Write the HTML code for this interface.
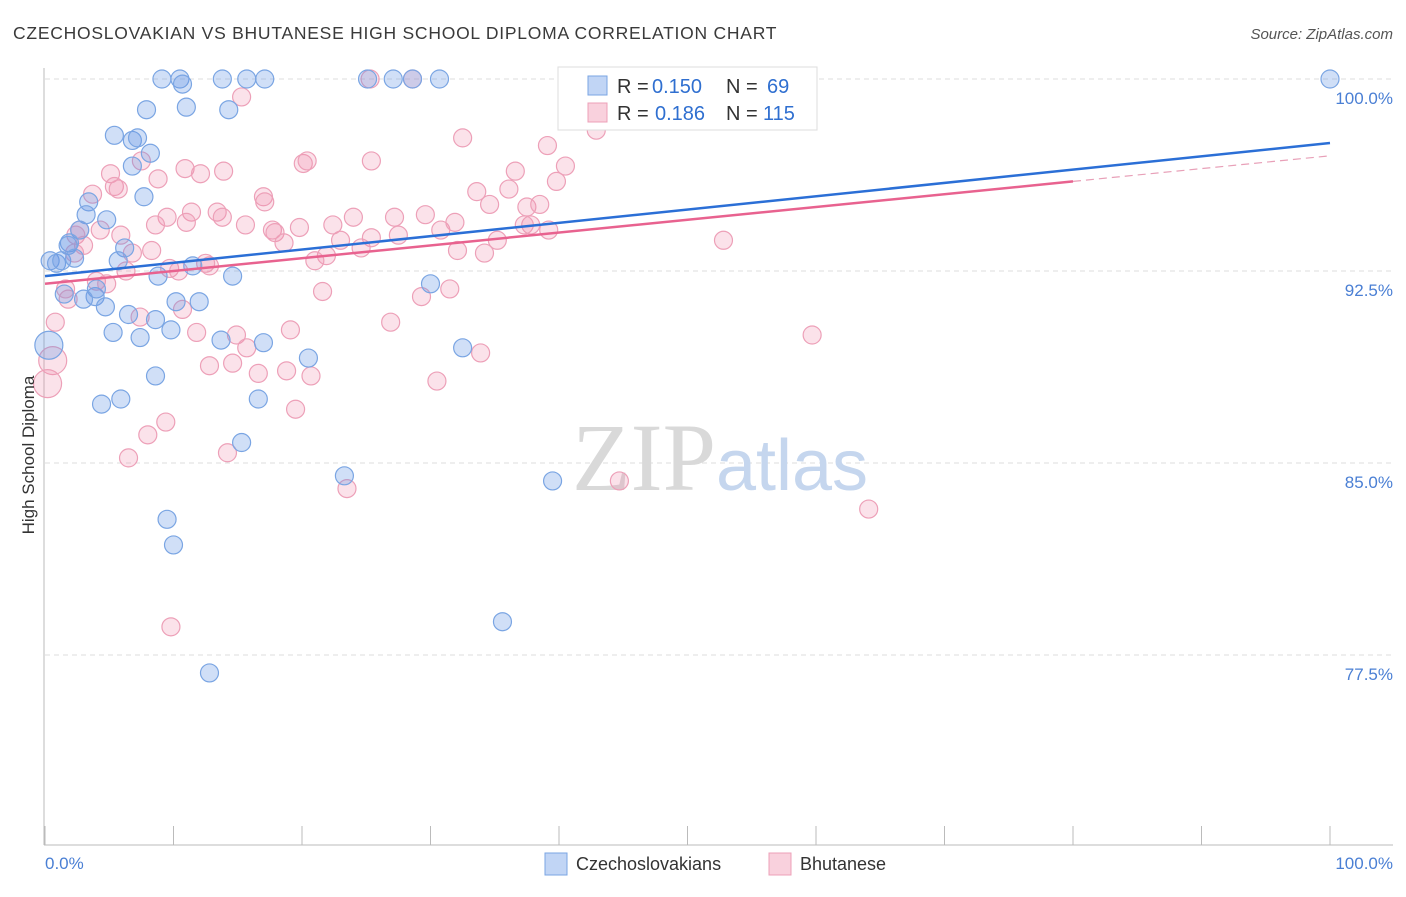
<!DOCTYPE html>
<html><head><meta charset="utf-8"><style>
body{margin:0;background:#fff;font-family:"Liberation Sans",sans-serif}
svg text{font-family:"Liberation Sans",sans-serif}
</style></head><body>
<svg id="chart" width="1406" height="892" viewBox="0 0 1406 892" xmlns="http://www.w3.org/2000/svg">
<text x="13" y="39" font-size="17.5" letter-spacing="0.75" fill="#3a3a3a">CZECHOSLOVAKIAN VS BHUTANESE HIGH SCHOOL DIPLOMA CORRELATION CHART</text>
<text x="1393" y="39" font-size="15" fill="#555" font-style="italic" text-anchor="end">Source: ZipAtlas.com</text>
<g id="grid"></g>
<text x="720" y="490" font-size="96" text-anchor="middle"><tspan fill="#d9d9d9" font-family="Liberation Serif">ZIP</tspan><tspan fill="#c5d6ee" font-size="72">atlas</tspan></text>
<g id="points"></g>
<g id="lines"></g>
<text transform="translate(34,455) rotate(-90)" font-size="17" fill="#333" text-anchor="middle">High School Diploma</text>
<g>
<rect x="558" y="67" width="259" height="63" fill="#fff" stroke="#ddd"/>
<rect x="588" y="76" width="19" height="19" fill="rgba(100,150,230,0.4)" stroke="#7aa5e3"/>
<rect x="588" y="103" width="19" height="19" fill="rgba(240,140,170,0.4)" stroke="#eda0b8"/>
<text x="617" y="93" font-size="20" fill="#333">R =</text>
<text x="652" y="93" font-size="20" fill="#2f6fd0">0.150</text>
<text x="726" y="93" font-size="20" fill="#333">N =</text>
<text x="767" y="93" font-size="20" fill="#2f6fd0">69</text>
<text x="617" y="120" font-size="20" fill="#333">R =</text>
<text x="655" y="120" font-size="20" fill="#2f6fd0">0.186</text>
<text x="726" y="120" font-size="20" fill="#333">N =</text>
<text x="763" y="120" font-size="20" fill="#2f6fd0">115</text>
</g>
<g>
<rect x="545" y="853" width="22" height="22" fill="rgba(100,150,230,0.4)" stroke="#7aa5e3"/>
<text x="576" y="870" font-size="18" fill="#333">Czechoslovakians</text>
<rect x="769" y="853" width="22" height="22" fill="rgba(240,140,170,0.4)" stroke="#eda0b8"/>
<text x="800" y="870" font-size="18" fill="#333">Bhutanese</text>
</g>
</svg>
<script>
const yTicks=[100,92.5,85,77.5];
const yTickLabels=["100.0%","92.5%","85.0%","77.5%"];
const xTickLabels=["0.0%","100.0%"];
const blueX=[9.1,10.5,10.7,13.8,15.7,17.1,25.1,27.1,28.6,30.7,100,7.9,11.0,14.3,5.4,6.8,7.2,8.2,6.8,7.7,3.4,3.2,4.8,2.7,1.9,1.8,6.2,0.4,0.9,1.3,2.3,5.7,8.8,11.5,14.6,30.0,1.5,3.9,4.0,3.0,4.7,10.2,12.0,6.5,8.6,5.3,7.4,9.8,13.7,17.0,20.5,32.5,8.6,4.4,5.9,16.6,15.3,23.3,39.5,9.5,10.0,35.6,12.8];
const blueY=[100,100,99.8,100,100,100,100,100,100,100,100,98.8,98.9,98.8,97.8,97.6,97.7,97.1,96.6,95.4,95.2,94.7,94.5,94.1,93.6,93.5,93.4,92.9,92.8,92.9,93.0,92.9,92.3,92.7,92.3,92.0,91.6,91.5,91.8,91.4,91.1,91.3,91.3,90.8,90.6,90.1,89.9,90.2,89.8,89.7,89.1,89.5,88.4,87.3,87.5,87.5,85.8,84.5,84.3,82.8,81.8,78.8,76.8];
const pinkX=[15.3,32.5,44.4,42.9,45.3,25.3,28.6,39.1,40.5,39.8,36.6,36.1,33.6,34.6,37.5,38.5,37.8,39.2,37.3,35.2,32.1,34.2,30.8,31.9,29.6,27.2,27.5,25.4,24.0,22.4,23.0,21.9,21.0,24.6,20.1,20.4,25.4,10.9,8.8,12.1,13.9,5.1,5.4,5.7,3.7,7.5,9.5,8.6,11.4,11.0,13.4,13.8,15.6,17.0,17.1,17.7,17.9,18.6,19.8,21.6,4.3,2.7,2.4,3.0,2.3,5.9,6.8,8.3,9.7,6.3,12.8,10.4,12.5,4.0,4.8,1.8,1.6,0.8,10.7,7.4,14.9,11.8,15.7,19.1,29.3,26.9,31.5,33.9,16.6,18.8,20.7,12.8,14.6,30.5,19.5,9.4,8.0,6.5,14.2,23.5,44.7,64.1,52.8,59.7,9.8];
const pinkY=[99.3,97.7,98.4,98.0,98.9,100,100,97.4,96.6,96.0,96.4,95.7,95.6,95.1,95.0,95.1,94.3,94.1,94.3,93.7,93.3,93.2,94.1,94.4,94.7,94.6,93.9,93.8,94.6,94.3,93.7,93.1,92.9,93.4,96.7,96.8,96.8,96.5,96.1,96.3,96.4,96.3,95.8,95.7,95.5,96.8,94.6,94.3,94.8,94.4,94.8,94.6,94.3,95.4,95.2,94.1,94.0,93.6,94.2,91.7,94.1,94.1,93.9,93.5,93.2,93.9,93.2,93.3,92.6,92.5,92.7,92.5,92.8,92.1,92.0,91.4,91.8,90.5,91.0,90.7,90.0,90.1,89.5,90.2,91.5,90.5,91.8,89.3,88.5,88.6,88.4,88.8,88.9,88.2,87.1,86.6,86.1,85.2,85.4,84.0,84.3,83.2,93.7,90.0,78.6];
const bigBlueX=[0.3], bigBlueY=[89.6];
const bigPinkX=[0.6,0.2], bigPinkY=[89.0,88.1];
const blueTrend=[[0,92.3],[100,97.5]];
const pinkTrend=[[0,92.0],[80,96.0],[100,97.0]];

const NS="http://www.w3.org/2000/svg";
const X=v=>45+v*12.85, Y=v=>79+(100-v)*25.6;
function mk(tag,attrs,parent){const e=document.createElementNS(NS,tag);for(const k in attrs)e.setAttribute(k,attrs[k]);parent.appendChild(e);return e;}
const grid=document.getElementById('grid');
yTicks.forEach((t,i)=>{
  const l=mk('line',{x1:45,x2:1393,y1:Y(t),y2:Y(t),stroke:'#ddd','stroke-dasharray':'5,4'},grid);
  
  
  const tx=mk('text',{x:1393,y:Y(t)+25,'font-size':17,fill:'#4a7fd4','text-anchor':'end'},grid);
  tx.textContent=yTickLabels[i];
  
  
});
const ax=mk('line',{x1:44,x2:44,y1:68,y2:845,stroke:'#bbb'},grid);


const bx=mk('line',{x1:44,x2:1393,y1:845,y2:845,stroke:'#bbb'},grid);


for(let i=0;i<=10;i++){
  const t=mk('line',{x1:X(i*10),x2:X(i*10),y1:826,y2:845,stroke:'#bbb'},grid);
  
  
}
[[0,'start'],[100,'end']].forEach((p,i)=>{
  const t=mk('text',{x:i?1393:45,y:869,'font-size':17,fill:'#4a7fd4','text-anchor':p[1]},grid);
  t.textContent=xTickLabels[i];
  
  
});
const pts=document.getElementById('points');
function dots(xs,ys,r,fill,stroke,name){
  xs.forEach((x,i)=>{
    const c=mk('circle',{cx:X(x),cy:Y(ys[i]),r:r,fill:fill,stroke:stroke,'stroke-width':1.2},pts);
    
    
  });
}
dots(bigPinkX,bigPinkY,14,'rgba(240,140,170,0.25)','#eda0b8','bhutanese-point');
dots(bigBlueX,bigBlueY,14,'rgba(100,150,230,0.3)','#7aa5e3','czechoslovakian-point');
dots(pinkX,pinkY,9,'rgba(240,140,170,0.25)','#eda0b8','bhutanese-point');
dots(blueX,blueY,9,'rgba(100,150,230,0.3)','#7aa5e3','czechoslovakian-point');
const lines=document.getElementById('lines');
const bl=mk('line',{x1:X(blueTrend[0][0]),y1:Y(blueTrend[0][1]),x2:X(blueTrend[1][0]),y2:Y(blueTrend[1][1]),stroke:'#2b6fd6','stroke-width':2.5},lines);


const pl=mk('line',{x1:X(pinkTrend[0][0]),y1:Y(pinkTrend[0][1]),x2:X(pinkTrend[1][0]),y2:Y(pinkTrend[1][1]),stroke:'#e8628f','stroke-width':2.5},lines);


const pd=mk('line',{x1:X(pinkTrend[1][0]),y1:Y(pinkTrend[1][1]),x2:X(pinkTrend[2][0]),y2:Y(pinkTrend[2][1]),stroke:'#e8a0b8','stroke-width':1.2,'stroke-dasharray':'8,5'},lines);


</script>
</body></html>
